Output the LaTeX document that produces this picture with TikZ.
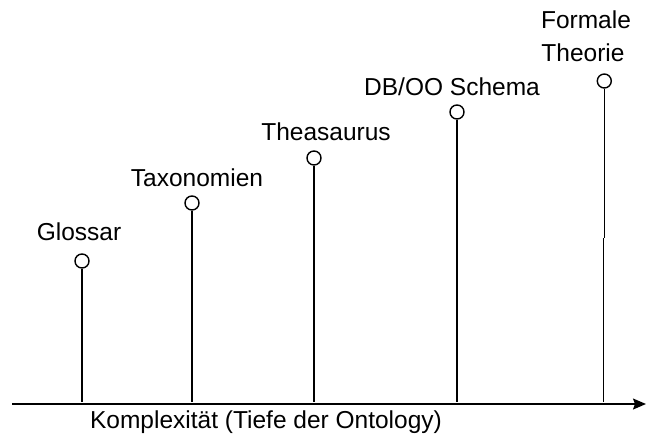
\documentclass[tikz,border=0pt]{standalone}
\usepackage{fontspec}
\setmainfont{Liberation Sans}
\usetikzlibrary{arrows.meta}
\begin{document}
\begin{tikzpicture}[x=1pt,y=-1pt,
  lbl/.style={anchor=base,inner sep=0pt,font=\fontsize{24.5}{29}\selectfont},
  dot/.style={circle,draw,line width=1.4pt,minimum size=14pt,inner sep=0pt,fill=white},
  stem/.style={line width=1.4pt},
  axisline/.style={line width=1.4pt,-{Stealth[length=13pt,width=11pt,inset=2pt]}}]
\useasboundingbox (0,0) rectangle (646,434);
% axis
\coordinate (a0) at (12,404);
\coordinate (a1) at (646,404);
\draw[axisline] (a0) -- (a1);
\node[lbl] (xl) at (266,428) {Komplexität (Tiefe der Ontology)};
% circles
\node[dot] (c1) at (82,261) {};
\node[dot] (c2) at (192,203) {};
\node[dot] (c3) at (314,158) {};
\node[dot] (c4) at (457,112) {};
\node[dot] (c5) at (604.3,81) {};
% stems
\draw[stem] (c1.south) -- ([yshift=2pt]c1.south |- a0);
\draw[stem] (c2.south) -- ([yshift=2pt]c2.south |- a0);
\draw[stem] (c3.south) -- ([yshift=2pt]c3.south |- a0);
\draw[stem] (c4.south) -- ([yshift=2pt]c4.south |- a0);
\coordinate (k5) at (603.3,238);
\draw[stem] (c5.south) -- (c5.south |- k5);
\draw[stem] (k5) -- ([yshift=2pt]k5 |- a0);
% labels
\node[lbl] (t1) at (79,240) {Glossar};
\node[lbl] (t2) at (197,186) {Taxonomien};
\node[lbl] (t3) at (326,140) {Theasaurus};
\node[lbl] (t4) at (452,95) {DB/OO Schema};
\node[lbl] (t5a) at (586,28) {Formale};
\node[lbl] (t5b) at (583,61) {Theorie};
\end{tikzpicture}
\end{document}
